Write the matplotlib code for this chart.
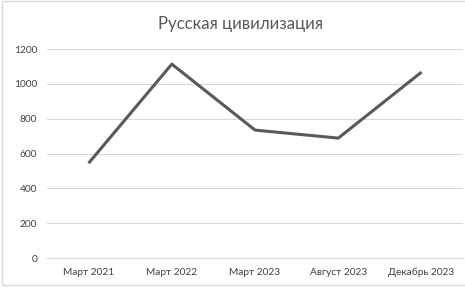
import matplotlib
matplotlib.use('Agg')
import matplotlib.pyplot as plt
from matplotlib.patches import Rectangle

# data
categories = ['Март 2021', 'Март 2022', 'Март 2023', 'Август 2023', 'Декабрь 2023']
values = [545, 1114, 735, 689, 1068]
yticks = [0, 200, 400, 600, 800, 1000, 1200]

plt.rcParams['font.family'] = ['Lato', 'DejaVu Sans']

fig = plt.figure(figsize=(4.65, 2.89), dpi=100)
ax = fig.add_axes([0.101, 0.107, 0.895, 0.723])

ax.plot(range(len(categories)), values, color='#595959', linewidth=2.2, solid_capstyle='butt')

ax.set_xlim(-0.5, len(categories) - 0.5)
ax.set_ylim(0, 1200)
ax.set_yticks(yticks)
ax.set_xticks(range(len(categories)))
ax.set_xticklabels(categories)
ax.grid(axis='y', color='#d9d9d9', linewidth=0.8)
ax.set_axisbelow(True)
for s in ax.spines.values():
    s.set_visible(False)
ax.spines['bottom'].set_visible(True)
ax.spines['bottom'].set_color('#d9d9d9')
ax.tick_params(length=0, labelsize=7.3, colors='#404040', pad=7)
ax.tick_params(axis='y', pad=7)

fig.text(0.518, 0.917, 'Русская цивилизация', ha='center', va='center',
         fontsize=12.1, color='#595959')

# chart frame
fig.patches.append(Rectangle((0.005, 0.015), 1.2, 0.98, transform=fig.transFigure,
                             fill=False, edgecolor='#d9d9d9', linewidth=1))

fig.savefig('out.png', dpi=100)
